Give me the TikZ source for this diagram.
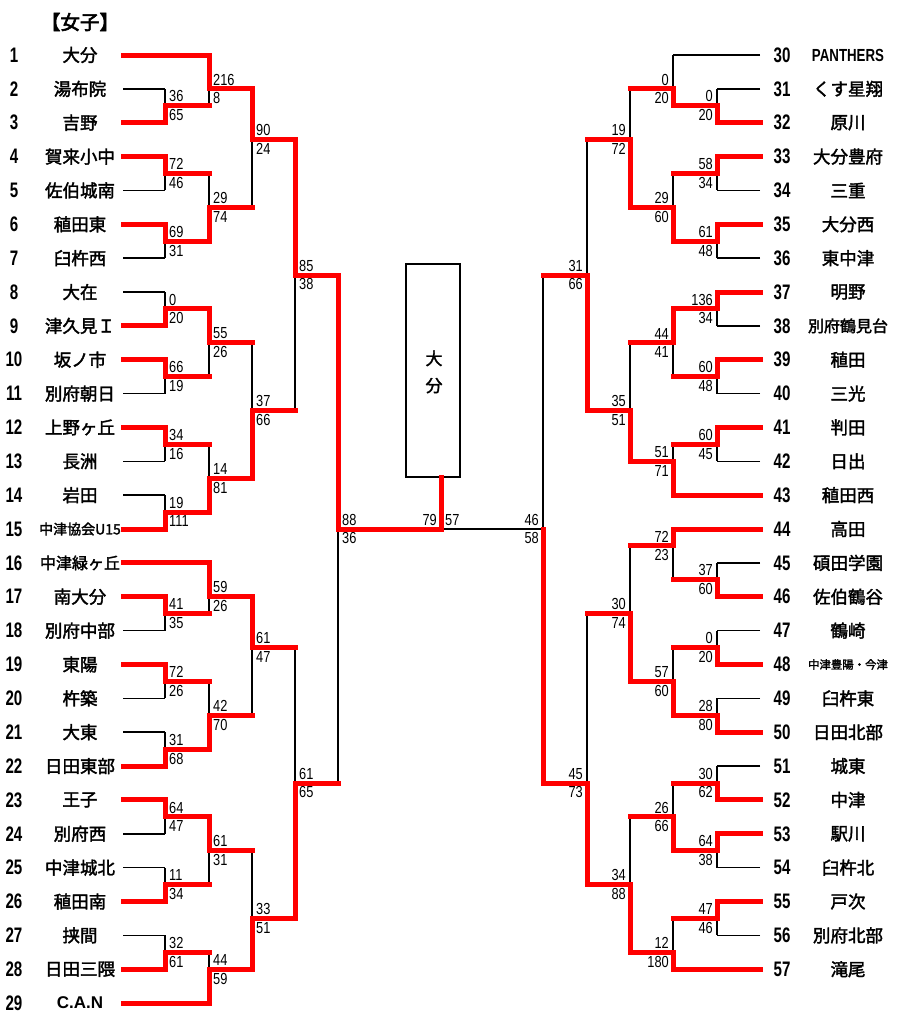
\documentclass[tikz,border=0pt]{standalone}
\usepackage{fontspec}
\newfontfamily\jpb{Noto Sans CJK JP}[FakeBold=2]
\newfontfamily\jpt{Noto Sans CJK JP}[FakeBold=3]
\newfontfamily\lat{Liberation Sans}
\pgfdeclarelayer{redlayer}
\pgfsetlayers{main,redlayer}
\newcommand{\Y}[1]{55+16.93*#1}
\newcommand{\scr}[1]{\scalebox{0.8}[1]{#1}}
\newcommand{\nsc}[1]{\scalebox{0.72}[1]{#1}}
\newcommand{\redpath}[1]{\begin{pgfonlayer}{redlayer}\draw[rd] #1;\end{pgfonlayer}}
\newcommand{\blkpath}[1]{\draw[blk] #1;}
\newcommand{\LT}[5]{%
 \node[num] (ln#1) at (14,\Y{#3}) {\nsc{#1}};
 \node[nm] (lt#1) at (80,\Y{#3}) {#2};
 #5{(123,\Y{#3}) -- (#4,\Y{#3})}}
\newcommand{\RT}[5]{%
 \node[num] (rn#1) at (782,\Y{#3}) {\nsc{#1}};
 \node[nm] (rt#1) at (848,\Y{#3}) {#2};
 #5{(760,\Y{#3}) -- (#4,\Y{#3})}}
\newcommand{\LM}[8]{%
 \if#6U
  \redpath{(#1,\Y{#3}) -- (#1,\Y{#5}) -- (#2,\Y{#5})}%
  \blkpath{(#1,\Y{#5}) -- (#1,\Y{#4})}%
 \else
  \redpath{(#1,\Y{#4}) -- (#1,\Y{#5}) -- (#2,\Y{#5})}%
  \blkpath{(#1,\Y{#5}) -- (#1,\Y{#3})}%
 \fi
 \node[sc,anchor=south west] (ls#1x#5a) at (#1+4,\Y{#5}-3.5) {\scr{#7}};
 \node[sc,anchor=north west] (ls#1x#5b) at (#1+4,\Y{#5}+3.5) {\scr{#8}};}
\newcommand{\RM}[8]{%
 \if#6U
  \redpath{(#1,\Y{#3}) -- (#1,\Y{#5}) -- (#2,\Y{#5})}%
  \blkpath{(#1,\Y{#5}) -- (#1,\Y{#4})}%
 \else
  \redpath{(#1,\Y{#4}) -- (#1,\Y{#5}) -- (#2,\Y{#5})}%
  \blkpath{(#1,\Y{#5}) -- (#1,\Y{#3})}%
 \fi
 \node[sc,anchor=south east] (rs#1x#5a) at (#1-4,\Y{#5}-3.5) {\scr{#7}};
 \node[sc,anchor=north east] (rs#1x#5b) at (#1-4,\Y{#5}+3.5) {\scr{#8}};}
\tikzset{
 blk/.style={line width=1.6pt, black},
 rd/.style={line width=5pt, color=red, line cap=rect},
 sc/.style={inner sep=0pt, font=\lat\fontsize{16}{16}\selectfont},
 num/.style={inner sep=0pt, font=\lat\bfseries\fontsize{21}{21}\selectfont},
 nm/.style={inner sep=0pt, font=\jpb\fontsize{17.5}{17.5}\selectfont},
}
\begin{document}
\begin{tikzpicture}[x=1pt,y=-1pt]
\fill[white] (0,0) rectangle (900,1020);
\useasboundingbox (0,0) rectangle (900,1020);
\node[inner sep=0pt, font=\jpt\fontsize{19.5}{19.5}\selectfont] (title) at (80,22) {【女子】};
% left teams
\LT{1}{大分}{0}{209}{\redpath}
\LT{2}{湯布院}{2}{165}{\blkpath}
\LT{3}{吉野}{4}{165}{\redpath}
\LT{4}{賀来小中}{6}{165}{\redpath}
\LT{5}{佐伯城南}{8}{165}{\blkpath}
\LT{6}{稙田東}{10}{165}{\redpath}
\LT{7}{臼杵西}{12}{165}{\blkpath}
\LT{8}{大在}{14}{165}{\blkpath}
\LT{9}{津久見Ｉ}{16}{165}{\redpath}
\LT{10}{坂ノ市}{18}{165}{\redpath}
\LT{11}{別府朝日}{20}{165}{\blkpath}
\LT{12}{上野ヶ丘}{22}{165}{\redpath}
\LT{13}{長洲}{24}{165}{\blkpath}
\LT{14}{岩田}{26}{165}{\blkpath}
\LT{15}{{\fontsize{14}{14}\selectfont 中津協会U15}}{28}{165}{\redpath}
\LT{16}{{\fontsize{16}{16}\selectfont 中津緑ヶ丘}}{30}{209}{\redpath}
\LT{17}{南大分}{32}{165}{\redpath}
\LT{18}{別府中部}{34}{165}{\blkpath}
\LT{19}{東陽}{36}{165}{\redpath}
\LT{20}{杵築}{38}{165}{\blkpath}
\LT{21}{大東}{40}{165}{\blkpath}
\LT{22}{日田東部}{42}{165}{\redpath}
\LT{23}{王子}{44}{165}{\redpath}
\LT{24}{別府西}{46}{165}{\blkpath}
\LT{25}{中津城北}{48}{165}{\blkpath}
\LT{26}{稙田南}{50}{165}{\redpath}
\LT{27}{挟間}{52}{165}{\blkpath}
\LT{28}{日田三隈}{54}{165}{\redpath}
\LT{29}{{\lat\bfseries\fontsize{17}{17}\selectfont C.A.N}}{56}{209}{\redpath}
% right teams
\RT{30}{{\lat\bfseries\fontsize{17.5}{17.5}\selectfont\scalebox{0.76}[1]{PANTHERS}}}{0}{673}{\blkpath}
\RT{31}{くす星翔}{2}{717}{\blkpath}
\RT{32}{原川}{4}{717}{\redpath}
\RT{33}{大分豊府}{6}{717}{\redpath}
\RT{34}{三重}{8}{717}{\blkpath}
\RT{35}{大分西}{10}{717}{\redpath}
\RT{36}{東中津}{12}{717}{\blkpath}
\RT{37}{明野}{14}{717}{\redpath}
\RT{38}{{\fontsize{16}{16}\selectfont 別府鶴見台}}{16}{717}{\blkpath}
\RT{39}{稙田}{18}{717}{\redpath}
\RT{40}{三光}{20}{717}{\blkpath}
\RT{41}{判田}{22}{717}{\redpath}
\RT{42}{日出}{24}{717}{\blkpath}
\RT{43}{稙田西}{26}{673}{\redpath}
\RT{44}{高田}{28}{673}{\redpath}
\RT{45}{碩田学園}{30}{717}{\blkpath}
\RT{46}{佐伯鶴谷}{32}{717}{\redpath}
\RT{47}{鶴崎}{34}{717}{\blkpath}
\RT{48}{{\fontsize{11.4}{11.4}\selectfont 中津豊陽・今津}}{36}{717}{\redpath}
\RT{49}{臼杵東}{38}{717}{\blkpath}
\RT{50}{日田北部}{40}{717}{\redpath}
\RT{51}{城東}{42}{717}{\blkpath}
\RT{52}{中津}{44}{717}{\redpath}
\RT{53}{駅川}{46}{717}{\redpath}
\RT{54}{臼杵北}{48}{717}{\blkpath}
\RT{55}{戸次}{50}{717}{\redpath}
\RT{56}{別府北部}{52}{717}{\blkpath}
\RT{57}{滝尾}{54}{673}{\redpath}
% left round 1
\LM{165}{209}{2}{4}{3}{L}{36}{65}
\LM{165}{209}{6}{8}{7}{U}{72}{46}
\LM{165}{209}{10}{12}{11}{U}{69}{31}
\LM{165}{209}{14}{16}{15}{L}{0}{20}
\LM{165}{209}{18}{20}{19}{U}{66}{19}
\LM{165}{209}{22}{24}{23}{U}{34}{16}
\LM{165}{209}{26}{28}{27}{L}{19}{111}
\LM{165}{209}{32}{34}{33}{U}{41}{35}
\LM{165}{209}{36}{38}{37}{U}{72}{26}
\LM{165}{209}{40}{42}{41}{L}{31}{68}
\LM{165}{209}{44}{46}{45}{U}{64}{47}
\LM{165}{209}{48}{50}{49}{L}{11}{34}
\LM{165}{209}{52}{54}{53}{L}{32}{61}
% left round 2
\LM{209}{252}{0}{3}{2}{U}{216}{8}
\LM{209}{252}{7}{11}{9}{L}{29}{74}
\LM{209}{252}{15}{19}{17}{U}{55}{26}
\LM{209}{252}{23}{27}{25}{L}{14}{81}
\LM{209}{252}{30}{33}{32}{U}{59}{26}
\LM{209}{252}{37}{41}{39}{L}{42}{70}
\LM{209}{252}{45}{49}{47}{U}{61}{31}
\LM{209}{252}{53}{56}{54}{L}{44}{59}
% left round 3
\LM{252}{295}{2}{9}{5}{U}{90}{24}
\LM{252}{295}{17}{25}{21}{L}{37}{66}
\LM{252}{295}{32}{39}{35}{U}{61}{47}
\LM{252}{295}{47}{54}{51}{L}{33}{51}
% left round 4
\LM{295}{338}{5}{21}{13}{U}{85}{38}
\LM{295}{338}{35}{51}{43}{L}{61}{65}
% left semifinal
\LM{338}{441}{13}{43}{28}{U}{88}{36}
% right round 1
\RM{717}{673}{2}{4}{3}{L}{0}{20}
\RM{717}{673}{6}{8}{7}{U}{58}{34}
\RM{717}{673}{10}{12}{11}{U}{61}{48}
\RM{717}{673}{14}{16}{15}{U}{136}{34}
\RM{717}{673}{18}{20}{19}{U}{60}{48}
\RM{717}{673}{22}{24}{23}{U}{60}{45}
\RM{717}{673}{30}{32}{31}{L}{37}{60}
\RM{717}{673}{34}{36}{35}{L}{0}{20}
\RM{717}{673}{38}{40}{39}{L}{28}{80}
\RM{717}{673}{42}{44}{43}{L}{30}{62}
\RM{717}{673}{46}{48}{47}{U}{64}{38}
\RM{717}{673}{50}{52}{51}{U}{47}{46}
% right round 2
\RM{673}{630}{0}{3}{2}{L}{0}{20}
\RM{673}{630}{7}{11}{9}{L}{29}{60}
\RM{673}{630}{15}{19}{17}{U}{44}{41}
\RM{673}{630}{23}{26}{24}{L}{51}{71}
\RM{673}{630}{28}{31}{29}{U}{72}{23}
\RM{673}{630}{35}{39}{37}{L}{57}{60}
\RM{673}{630}{43}{47}{45}{L}{26}{66}
\RM{673}{630}{51}{54}{53}{L}{12}{180}
% right round 3
\RM{630}{587}{2}{9}{5}{L}{19}{72}
\RM{630}{587}{17}{24}{21}{L}{35}{51}
\RM{630}{587}{29}{37}{33}{L}{30}{74}
\RM{630}{587}{45}{53}{49}{L}{34}{88}
% right round 4
\RM{587}{543}{5}{21}{13}{L}{31}{66}
\RM{587}{543}{33}{49}{43}{L}{45}{73}
% right semifinal
\redpath{(543,\Y{43}) -- (543,\Y{28})}
\blkpath{(543,\Y{13}) -- (543,\Y{28}) -- (441,\Y{28})}
\node[sc,anchor=south east] (rs543a) at (539,\Y{28}-3.5) {\scr{46}};
\node[sc,anchor=north east] (rs543b) at (539,\Y{28}+3.5) {\scr{58}};
% champion box and final
\node[draw, line width=1.2pt, minimum width=54pt, minimum height=213pt, inner sep=0pt] (champ) at (433,370.5) {};
\node[nm, align=center, font=\jpb\fontsize{17}{27}\selectfont] (champtxt) at (434,372) {大\\分};
\redpath{(441,\Y{28}) -- (441,0 |- champ.south)}
\node[sc,anchor=south east] (fa) at (437,\Y{28}-3.5) {\scr{79}};
\node[sc,anchor=south west] (fb) at (445,\Y{28}-3.5) {\scr{57}};
\end{tikzpicture}
\end{document}
